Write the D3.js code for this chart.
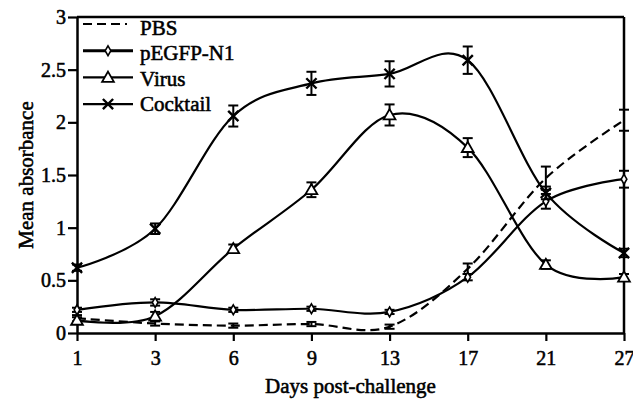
<!DOCTYPE html>
<html>
<head>
<meta charset="utf-8">
<script src="https://cdn.jsdelivr.net/npm/d3@7"></script>
<style>
  html, body { margin: 0; padding: 0; background: #fff; }
  svg { display: block; }
  text { font-family: "Liberation Serif", "Times New Roman", serif; fill: #000; }
</style>
</head>
<body>
<svg id="chart" width="633" height="401"></svg>
<script>
// ---- data ----
const days = ["1", "3", "6", "9", "13", "17", "21", "27"];
const yTicks = [0, 0.5, 1, 1.5, 2, 2.5, 3];

const pbsValues      = [0.14, 0.09, 0.07, 0.085, 0.06, 0.61, 1.47, 2.02];
const pbsErrors      = [0.03, 0.02, 0.02, 0.02, 0.02, 0.05, 0.11, 0.10];
const pegfpValues    = [0.22, 0.29, 0.22, 0.23, 0.20, 0.53, 1.25, 1.46];
const pegfpErrors    = [0.02, 0.03, 0.02, 0.02, 0.02, 0.03, 0.07, 0.08];
const virusValues    = [0.12, 0.16, 0.80, 1.36, 2.07, 1.76, 0.65, 0.53];
const virusErrors    = [0.03, 0.04, 0.04, 0.07, 0.10, 0.09, 0.04, 0.03];
const cocktailValues = [0.62, 0.99, 2.06, 2.37, 2.46, 2.59, 1.33, 0.76];
const cocktailErrors = [0.03, 0.05, 0.10, 0.11, 0.12, 0.13, 0.06, 0.04];

const seriesNames = ["PBS", "pEGFP-N1", "Virus", "Cocktail"];
const xTitle = "Days post-challenge";
const yTitle = "Mean absorbance";

const series = [
  { name: seriesNames[0], values: pbsValues, errors: pbsErrors, marker: "none", dashed: true },
  { name: seriesNames[1], values: pegfpValues, errors: pegfpErrors, marker: "diamond", dashed: false },
  { name: seriesNames[2], values: virusValues, errors: virusErrors, marker: "triangle", dashed: false },
  { name: seriesNames[3], values: cocktailValues, errors: cocktailErrors, marker: "cross", dashed: false }
];

// ---- layout ----
const W = 633, H = 401;
const margin = { left: 77, right: 9, top: 17, bottom: 68 };
const svg = d3.select("#chart");

const x = d3.scalePoint().domain(days).range([margin.left, W - margin.right]).padding(0);
const y = d3.scaleLinear().domain([0, 3]).range([H - margin.bottom, margin.top]);

const LW = 2.2;
const TXT_STROKE = 0.55;

// frame top & right
svg.append("line").attr("x1", x.range()[0]).attr("x2", x.range()[1])
  .attr("y1", y(3)).attr("y2", y(3)).attr("stroke", "#000").attr("stroke-width", 2.5);
svg.append("line").attr("x1", x.range()[1]).attr("x2", x.range()[1])
  .attr("y1", y(3)).attr("y2", y(0)).attr("stroke", "#000").attr("stroke-width", 2.5);

// axes
const xAxis = svg.append("g").attr("transform", `translate(0,${y(0)})`)
  .call(d3.axisBottom(x).tickSizeOuter(0).tickSizeInner(8).tickPadding(10));
const yAxis = svg.append("g").attr("transform", `translate(${margin.left},0)`)
  .call(d3.axisLeft(y).tickValues(yTicks).tickFormat(d3.format("~g")).tickSizeOuter(0).tickSizeInner(9).tickPadding(2));

[xAxis, yAxis].forEach(g => {
  g.select(".domain").attr("stroke", "#000").attr("stroke-width", 2.5);
  g.selectAll(".tick line").attr("stroke", "#000").attr("stroke-width", 2.2);
  g.selectAll(".tick text").attr("font-size", 20)
    .attr("fill", "#000").attr("stroke", "#000").attr("stroke-width", TXT_STROKE);
});

// axis titles
svg.append("text").attr("x", (x.range()[0] + x.range()[1]) / 2).attr("y", 393)
  .attr("text-anchor", "middle").attr("font-size", 21).attr("stroke", "#000").attr("stroke-width", TXT_STROKE)
  .text(xTitle);
svg.append("text").attr("transform", `translate(33,${(y(0) + y(3)) / 2}) rotate(-90)`)
  .attr("text-anchor", "middle").attr("font-size", 21).attr("stroke", "#000").attr("stroke-width", TXT_STROKE)
  .text(yTitle);

// ---- series ----
const line = d3.line().x((d, i) => x(days[i])).y(d => y(d)).curve(d3.curveCardinal.tension(0));

function drawMarker(g, type, cx, cy) {
  if (type === "diamond") {
    g.append("path").attr("d", d3.symbol(d3.symbolDiamond, 28)())
      .attr("transform", `translate(${cx},${cy})`)
      .attr("fill", "#fff").attr("stroke", "#000").attr("stroke-width", 1.6);
  } else if (type === "triangle") {
    g.append("path").attr("d", d3.symbol(d3.symbolTriangle, 60)())
      .attr("transform", `translate(${cx},${cy + 1})`)
      .attr("fill", "#fff").attr("stroke", "#000").attr("stroke-width", 1.8);
  } else if (type === "cross") {
    g.append("path").attr("d", d3.symbol(d3.symbolX, 70)())
      .attr("transform", `translate(${cx},${cy})`)
      .attr("fill", "none").attr("stroke", "#000").attr("stroke-width", 2.4);
  }
}

series.forEach(s => {
  const g = svg.append("g");
  g.append("path").datum(s.values).attr("d", line)
    .attr("fill", "none").attr("stroke", "#000").attr("stroke-width", LW)
    .attr("stroke-dasharray", s.dashed ? "9,5" : null);
  s.values.forEach((v, i) => {
    const cx = x(days[i]);
    const e = s.errors[i];
    const cap = 5;
    const eg = g.append("g").attr("stroke", "#000").attr("stroke-width", 2);
    eg.append("line").attr("x1", cx).attr("x2", cx).attr("y1", y(v - e)).attr("y2", y(v + e));
    eg.append("line").attr("x1", cx - cap).attr("x2", cx + cap).attr("y1", y(v + e)).attr("y2", y(v + e));
    eg.append("line").attr("x1", cx - cap).attr("x2", cx + cap).attr("y1", y(v - e)).attr("y2", y(v - e));
    drawMarker(g, s.marker, cx, y(v));
  });
});

// ---- legend ----
const legend = svg.append("g");
series.forEach((s, i) => {
  const ly = 24 + i * 26.7;
  const ty = 35 + i * 25.3;
  legend.append("line").attr("x1", 83).attr("x2", s.dashed ? 127 : 133).attr("y1", ly).attr("y2", ly)
    .attr("stroke", "#000").attr("stroke-width", i === 1 ? 3 : LW)
    .attr("stroke-dasharray", s.dashed ? "9,5" : null);
  drawMarker(legend, s.marker, 108, ly);
  legend.append("text").attr("x", 140).attr("y", ty).attr("font-size", 21)
    .attr("stroke", "#000").attr("stroke-width", TXT_STROKE).text(s.name);
});
</script>
</body>
</html>
